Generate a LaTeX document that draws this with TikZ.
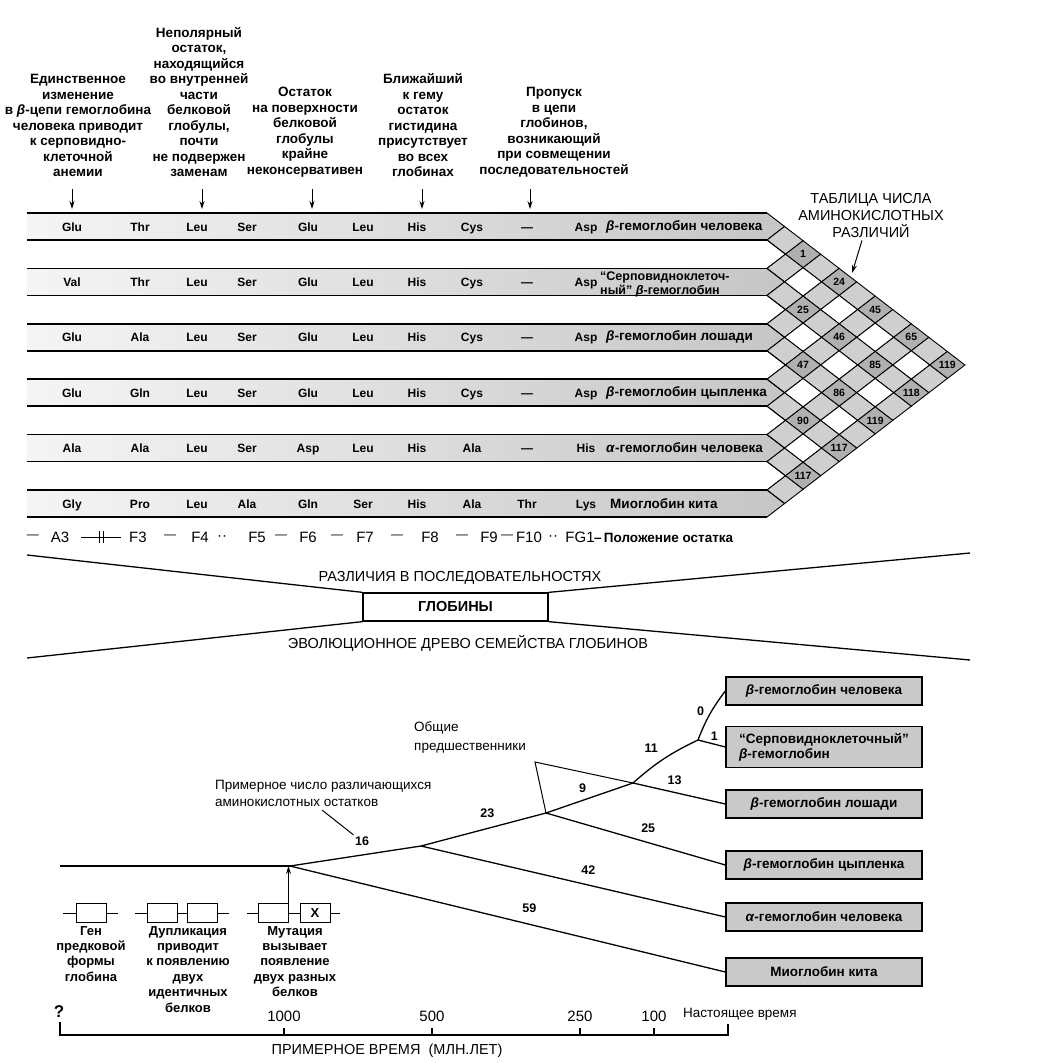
\documentclass[tikz,border=0pt]{standalone}
\usepackage{fontspec}
\setmainfont{Liberation Sans}
\usetikzlibrary{arrows.meta,positioning}
\pgfmathdeclarefunction{lev}{1}{\pgfmathparse{213+55.4*floor((#1)/2)+27*mod(#1,2)}}
\tikzset{
  note/.style={font=\fontsize{13.5}{15.5}\selectfont\bfseries,align=center,anchor=south,inner sep=0pt},
  pointer/.style={-{Stealth[length=8pt,width=5pt]},line width=1pt},
  acid/.style={font=\fontsize{12}{12}\selectfont\bfseries,inner sep=0pt,anchor=base},
  chainlab/.style={font=\fontsize{13.5}{14}\selectfont\bfseries,anchor=west,inner sep=0pt},
  band/.style={left color=gray!8,right color=gray!45},
  rule/.style={line width=1.5pt},
  mesh/.style={line width=0.9pt},
  cell0/.style={fill=white},
  cell1/.style={fill=gray!38},
  cell2/.style={fill=gray!62},
  diff/.style={font=\fontsize{10.5}{10.5}\selectfont\bfseries,inner sep=0pt},
  posn/.style={font=\fontsize{15}{15}\selectfont,inner sep=0pt},
  caps/.style={font=\fontsize{14.5}{15}\selectfont,inner sep=0pt},
  leaf/.style={draw,line width=1.3pt,fill=gray!42,minimum width=196pt,minimum height=28pt,font=\fontsize{13.5}{15}\selectfont\bfseries,inner sep=2pt},
  branch/.style={line width=1.3pt},
  len/.style={font=\fontsize{12.5}{12.5}\selectfont\bfseries,inner sep=1pt},
  gene/.style={draw,line width=1pt,fill=white,minimum width=30pt,minimum height=19pt,inner sep=0pt},
  genetext/.style={font=\fontsize{13}{15.4}\selectfont\bfseries,align=center,anchor=north,inner sep=0pt},
  remark/.style={font=\fontsize{13.5}{17}\selectfont,align=left,anchor=west,inner sep=0pt},
  year/.style={font=\fontsize{15}{15}\selectfont,inner sep=0pt},
}
\begin{document}
\begin{tikzpicture}[x=1pt,y=-1pt]
\useasboundingbox (0,0) rectangle (1040,1063);

\node[note] (note1) at (78,177) {Единственное\\изменение\\в \textit{β}-цепи гемоглобина\\человека приводит\\к серповидно-\\клеточной\\анемии};
\node[note] (note2) at (199,177) {Неполярный\\остаток,\\находящийся\\во внутренней\\части\\белковой\\глобулы,\\почти\\не подвержен\\заменам};
\node[note] (note3) at (305,177) {Остаток\\на поверхности\\белковой\\глобулы\\крайне\\неконсервативен};
\node[note] (note4) at (423,177) {Ближайший\\к гему\\остаток\\гистидина\\присутствует\\во всех\\глобинах};
\node[note] (note5) at (554,177) {Пропуск\\в цепи\\глобинов,\\возникающий\\при совмещении\\последовательностей};
\foreach \n/\x in {1/72,2/202,3/312,4/422,5/530}{
  \coordinate (tip\n) at (\x,209);
  \draw[pointer] (tip\n |- note\n.south) ++(0,12) -- (tip\n);
}

\foreach \i in {0,...,5}{
  \pgfmathsetmacro\t{213+55.4*\i}
  \fill[band] (27,\t) -- (767,\t) -- ({767+27*0.651},\t+13.5) -- (767,\t+27) -- (27,\t+27) -- cycle;
  \draw[rule] (27,\t) -- (767,\t) (27,\t+27) -- (767,\t+27);
}
\foreach \p in {0,...,10}{
  \foreach \q in {\p,...,10}{
    \pgfmathsetmacro\A{lev(\p)}
    \pgfmathsetmacro\B{lev(\p+1)}
    \pgfmathsetmacro\C{lev(\q)}
    \pgfmathsetmacro\D{lev(\q+1)}
    \ifnum\p=\q
      \draw[mesh] (767,\A) -- ({767+(\B-\A)*0.651},{(\A+\B)/2}) -- (767,\B);
    \else
      \pgfmathtruncatemacro\kind{2-mod(\p,2)-mod(\q,2)}
      \draw[mesh,cell\kind] ({767+(\C-\A)*0.651},{(\A+\C)/2}) -- ({767+(\D-\A)*0.651},{(\A+\D)/2})
        -- ({767+(\D-\B)*0.651},{(\B+\D)/2}) -- ({767+(\C-\B)*0.651},{(\B+\C)/2}) -- cycle;
    \fi
  }
}
\foreach \i/\j/\n in {1/2/1,1/3/24,2/3/25,1/4/45,2/4/46,1/5/65,3/4/47,2/5/85,1/6/119,3/5/86,2/6/118,4/5/90,3/6/119,4/6/117,5/6/117}
  \node[diff] (d\i\j) at ({767+55.4*(\j-\i)*0.651},{226.5+55.4*(\i+\j-2)/2}) {\n};

\foreach \r/\seq in {1/{Glu,Thr,Leu,Ser,Glu,Leu,His,Cys,—,Asp},2/{Val,Thr,Leu,Ser,Glu,Leu,His,Cys,—,Asp},3/{Glu,Ala,Leu,Ser,Glu,Leu,His,Cys,—,Asp},4/{Glu,Gln,Leu,Ser,Glu,Leu,His,Cys,—,Asp},5/{Ala,Ala,Leu,Ser,Asp,Leu,His,Ala,—,His},6/{Gly,Pro,Leu,Ala,Gln,Ser,His,Ala,Thr,Lys}}{
  \foreach \a [count=\c] in \seq {
    \pgfmathsetmacro\xx{{72,140,197,247,308,363,417,472,527,586}[\c-1]}
    \node[acid] (r\r c\c) at (\xx,{231+55.4*(\r-1)}) {\a};
  }
}
\node[chainlab] (lab1) at (606,226.5) {\textit{β}-гемоглобин человека};
\node[chainlab,font=\fontsize{12.5}{14}\selectfont\bfseries,align=left] (lab2) at (600,284) {“Серповидноклеточ-\\ный” \textit{β}-гемоглобин};
\node[chainlab] (lab3) at (606,337.3) {\textit{β}-гемоглобин лошади};
\node[chainlab] (lab4) at (606,392.7) {\textit{β}-гемоглобин цыпленка};
\node[chainlab] (lab5) at (606,448.1) {\textit{α}-гемоглобин человека};
\node[chainlab] (lab6) at (610,503.5) {Миоглобин кита};

\node[caps,align=center,font=\fontsize{14.5}{17}\selectfont] (title) at (871,216) {ТАБЛИЦА ЧИСЛА\\АМИНОКИСЛОТНЫХ\\РАЗЛИЧИЙ};
\draw[pointer] ([xshift=-9pt,yshift=-2pt]title.south) -- ([xshift=13pt,yshift=9pt]d13.center);

\foreach \x/\t in {60/A3,138/F3,200/F4,257/F5,308/F6,365/F7,430/F8,489/F9,529/F10,580/FG1}
  \node[posn] (p\t) at (\x,537) {\t};
\foreach \x in {33,170,281,337,397,462,507}
  \node[posn,font=\fontsize{12}{12}\selectfont] at (\x,537) {—};
\foreach \x in {222,553}
  \node[posn] at (\x,538) {··};
\draw[line width=1pt] (81,537) -- (121,537) (99,531) -- (99,543) (103,531) -- (103,543);
\node[chainlab,font=\fontsize{13.5}{14}\selectfont\bfseries] (resid) at (594,538) {–\,Положение остатка};

\node[draw,line width=1.3pt,minimum width=185pt,minimum height=28pt,font=\fontsize{14.5}{15}\selectfont\bfseries] (glob) at (455.5,607) {ГЛОБИНЫ};
\coordinate (nwend) at (27,555);
\coordinate (neend) at (970,553);
\coordinate (swend) at (27,658);
\coordinate (seend) at (970,660);
\draw[line width=1.3pt] (nwend) -- (glob.north west) (glob.north east) -- (neend)
  (swend) -- (glob.south west) (glob.south east) -- (seend);
\node[caps] (seqdiff) at (460,578) {РАЗЛИЧИЯ В ПОСЛЕДОВАТЕЛЬНОСТЯХ};
\node[caps] (evotree) at (468,643) {ЭВОЛЮЦИОННОЕ ДРЕВО СЕМЕЙСТВА ГЛОБИНОВ};

\node[leaf] (hb) at (824,691) {\textit{β}-гемоглобин человека};
\node[leaf,align=left,minimum height=41pt] (sickle) at (824,747) {“Серповидноклеточный”\\\textit{β}-гемоглобин};
\node[leaf] (horse) at (824,804) {\textit{β}-гемоглобин лошади};
\node[leaf] (chick) at (824,865) {\textit{β}-гемоглобин цыпленка};
\node[leaf] (alpha) at (824,917) {\textit{α}-гемоглобин человека};
\node[leaf] (myo) at (824,972) {Миоглобин кита};
\coordinate (trunk) at (60,866);
\coordinate (root) at (290,866);
\coordinate (nD) at (421,846);
\coordinate (nC) at (546,813);
\coordinate (nB) at (633,783);
\coordinate (nA) at (698,740);
\draw[branch] (trunk) -- (root);
\draw[branch] (root) -- node[len,pos=.55,above=8pt] (n16) {16} (nD);
\draw[branch] (root) -- node[len,pos=.55,above=10pt] {59} (myo.west);
\draw[branch] (nD) -- node[len,pos=.53,above=9pt] {23} (nC);
\draw[branch] (nD) -- node[len,pos=.55,above=9pt] {42} (alpha.west);
\draw[branch] (nC) -- node[len,pos=.42,above=6pt] {9} (nB);
\draw[branch] (nC) -- node[len,pos=.57,above=8pt] {25} (chick.west);
\draw[branch] (nB) to[bend left=8] node[len,pos=.5,above left=6pt] {11} (nA);
\draw[branch] (nB) -- node[len,pos=.45,above=6pt] {13} (horse.west);
\draw[branch] (nA) to[bend left=8] node[len,pos=.4,above left=2pt] {0} (hb.west);
\draw[branch] (nA) -- node[len,pos=.6,above=2pt] {1} (sickle.west);

\node[remark,font=\fontsize{13.5}{19}\selectfont] (common) at (414,737) {Общие\\предшественники};
\coordinate (fork) at (535,762);
\draw[line width=1pt] (nC) -- (fork) -- (nB);
\node[remark] (approx) at (215,793) {Примерное число различающихся\\аминокислотных остатков};
\coordinate (lead) at (322,810);
\draw[line width=1pt] (lead) -- (n16.north west);

\draw[line width=1pt] (63,913) -- (118,913);
\node[gene] (g1) at (91,913) {};
\draw[line width=1pt] (135,913) -- (229,913);
\node[gene] (g2a) at (162,913) {};
\node[gene] (g2b) at (202,913) {};
\draw[line width=1pt] (247,913) -- (340,913);
\node[gene] (g3a) at (273,913) {};
\node[gene,font=\fontsize{13}{13}\selectfont\bfseries] (g3b) at (315,913) {X};
\draw[pointer] (g3a.north east) -- (g3a.north east |- root);
\node[genetext] (t1) at (91,926) {Ген\\предковой\\формы\\глобина};
\node[genetext] (t2) at (188,926) {Дупликация\\приводит\\к появлению\\двух\\идентичных\\белков};
\node[genetext] (t3) at (295,926) {Мутация\\вызывает\\появление\\двух разных\\белков};

\draw[line width=1.3pt] (60,1022) -- (60,1035) -- (728,1035) -- (728,1024);
\foreach \x in {284,432,580,654}
  \draw[line width=1.3pt] (\x,1035) -- (\x,1028);
\node[year,font=\fontsize{17}{17}\selectfont\bfseries] (qmark) at (59,1012) {?};
\foreach \x/\t in {284/1000,432/500,580/250,654/100}
  \node[year] (y\t) at (\x,1016) {\t};
\node[remark] (now) at (683,1014) {Настоящее время};
\node[caps] (timeaxis) at (387,1051) {ПРИМЕРНОЕ ВРЕМЯ \ (МЛН.ЛЕТ)};
\end{tikzpicture}
\end{document}
